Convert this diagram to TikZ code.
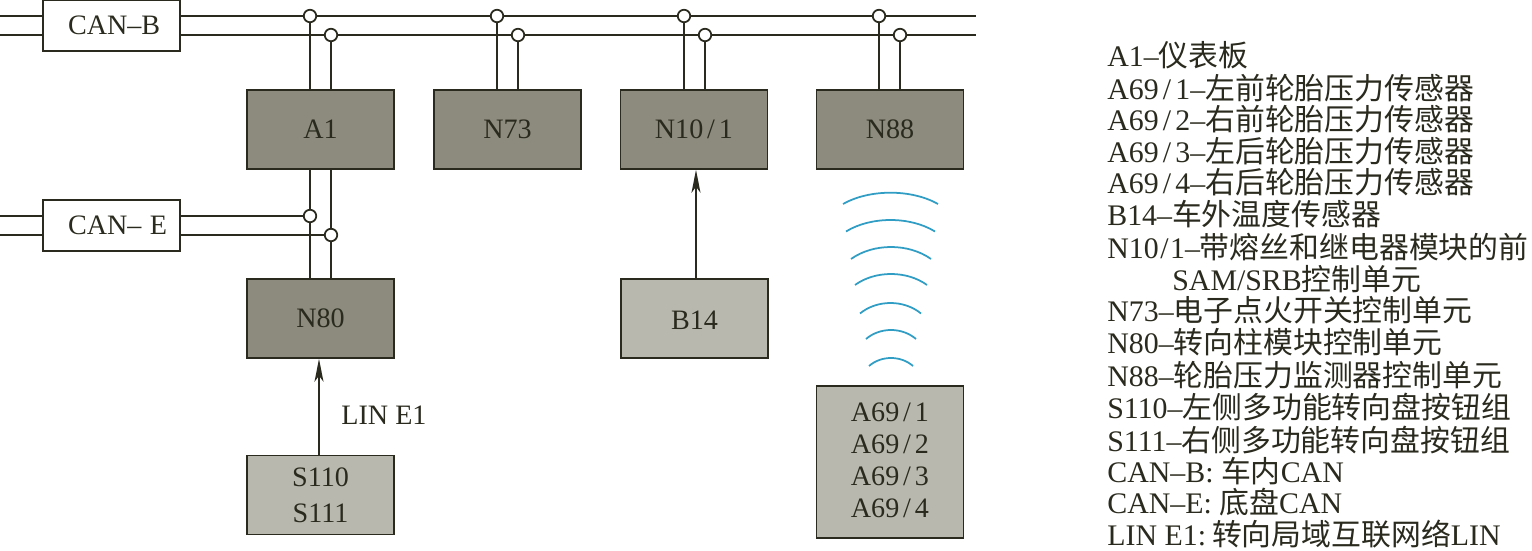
\documentclass[tikz,border=0pt]{standalone}
\usepackage{fontspec}
\setmainfont{Liberation Serif}
\newfontfamily\cjkfont{Noto Sans CJK SC}
\newcommand{\zh}[1]{{\cjkfont #1}}
\newcommand{\sla}{\kern0.14em/\kern0.14em}
\usetikzlibrary{arrows.meta, positioning}
\definecolor{inkline}{HTML}{2A2A1E}
\definecolor{ctrlgray}{HTML}{8C8B7D}
\definecolor{sensgray}{HTML}{B8B8AF}
\definecolor{wavecyan}{HTML}{2F9DC4}
\tikzset{
    ctrl/.style={draw=inkline, rectangle, fill=ctrlgray, minimum width=2.94cm, minimum height=1.58cm, inner sep=0pt, line width=0.9pt, text=inkline, font=\fontsize{16}{18.1}\selectfont, align=center},
    sens/.style={ctrl, fill=sensgray},
    canbox/.style={draw=inkline, rectangle, fill=white, minimum height=1.02cm, text width=2.04cm, inner xsep=0.35cm, inner ysep=0pt, line width=0.9pt, text=inkline, font=\fontsize{16}{18.1}\selectfont, align=left, execute at begin node=\hspace*{0.15cm}},
    junction/.style={circle, draw=inkline, fill=white, minimum size=0.25cm, inner sep=0pt, line width=1pt},
    legend/.style={anchor=base west, inner sep=0pt, text=inkline, font=\fontsize{17}{20}\selectfont},
    tag/.style={inner sep=0pt, text=inkline, font=\fontsize{16}{18.1}\selectfont},
    arrow/.style={-{Stealth[length=0.46cm, width=0.18cm, inset=0.12cm]}, draw=inkline, fill=inkline, line width=0.9pt},
    line/.style={draw=inkline, line width=0.75pt},
    heavyline/.style={draw=inkline, line width=1.1pt},
    wave/.style={draw=wavecyan, line width=1pt}
}
\begin{document}
\begin{tikzpicture}[x=0.02cm, y=-0.02cm]
    \useasboundingbox (0,0) rectangle (1532,551);

    % Bus CAN-B e CAN-E
    \node (canb) [canbox] at (111.5,25.5) {CAN–B};
    \node (cane) [canbox] at (111.5,225.5) {\mbox{CAN–\kern0.3em E}};
    \coordinate (bbh) at (0,16);
    \coordinate (bbl) at (0,35);
    \coordinate (bbhend) at (976,16);
    \coordinate (bblend) at (976,35);
    \coordinate (beh) at (0,216);
    \coordinate (bel) at (0,235);

    % Centraline
    \node (a1) [ctrl] at (320.5,129.5) {A1};
    \node (n73) [ctrl] at (507.5,129.5) {N73};
    \node (n101) [ctrl] at (694,129.5) {N10\sla 1};
    \node (n88) [ctrl] at (890,129.5) {N88};
    \node (n80) [ctrl] at (320.5,318.5) {N80};

    % Sensori
    \node (b14) [sens, text height=13pt] at (694.5,318.5) {B14};
    \node (s110) [sens] at (320.5,495) {S110\\[2.3pt]S111};
    \node (a69) [sens, minimum height=3.04cm, text depth=2.2pt] at (890,462) {A69\sla 1\\A69\sla 2\\A69\sla 3\\A69\sla 4};

    % Giunzioni
    \node (jb1) [junction] at (310,16) {};
    \node (jb2) [junction] at (331,35) {};
    \node (jb3) [junction] at (497,16) {};
    \node (jb4) [junction] at (518,35) {};
    \node (jb5) [junction] at (684,16) {};
    \node (jb6) [junction] at (705,35) {};
    \node (jb7) [junction] at (879,16) {};
    \node (jb8) [junction] at (900,35) {};
    \node (je1) [junction] at (310,216) {};
    \node (je2) [junction] at (331,235) {};

    % Linee dei bus
    \draw[heavyline] (bbh) -- (bbh -| canb.west);
    \draw[line] (bbl) -- (bbl -| canb.west);
    \draw[heavyline] (bbh -| canb.east) -- (jb1) -- (jb3) -- (jb5) -- (jb7) -- (bbhend);
    \draw[line] (bbl -| canb.east) -- (jb2) -- (jb4) -- (jb6) -- (jb8) -- (bblend);
    \draw[line] (beh) -- (beh -| cane.west);
    \draw[line] (bel) -- (bel -| cane.west);
    \draw[line] (beh -| cane.east) -- (je1);
    \draw[line] (bel -| cane.east) -- (je2);

    % Derivazioni verticali
    \draw[heavyline] (jb1) -- (jb1 |- a1.north);
    \draw[line] (jb2) -- (jb2 |- a1.north);
    \draw[heavyline] (jb3) -- (jb3 |- n73.north);
    \draw[line] (jb4) -- (jb4 |- n73.north);
    \draw[heavyline] (jb5) -- (jb5 |- n101.north);
    \draw[line] (jb6) -- (jb6 |- n101.north);
    \draw[heavyline] (jb7) -- (jb7 |- n88.north);
    \draw[line] (jb8) -- (jb8 |- n88.north);
    \draw[heavyline] (je1 |- a1.south) -- (je1) -- (je1 |- n80.north);
    \draw[line] (je2 |- a1.south) -- (je2) -- (je2 |- n80.north);

    % Frecce
    \draw[arrow] (s110.north -| 319,0) -- (n80.south -| 319,0);
    \draw[arrow] (b14.north -| 696,0) -- (n101.south -| 696,0);
    \node (lin) [tag] at (384,415) {LIN E1};

    % Onde radio
    \foreach \xa/\xb/\yb/\yp in {843/938/204/192.7, 846/935/231.5/220, 851/931/259/247, 855/927/285/274, 860/921/313.5/303, 866/916/339/330, 869/913/366/358} {
        \draw[wave] (\xa,\yb) .. controls ({\xa+0.28*(\xb-\xa)},{\yb+(\yp-\yb)/0.75}) and ({\xb-0.28*(\xb-\xa)},{\yb+(\yp-\yb)/0.75}) .. (\xb,\yb);
    }

    % Legenda
    \foreach \xl/\yl/\txt [count=\i] in {
        1107/66/{A1–\zh{仪表板}},
        1107/99/{A69\sla 1–\zh{左前轮胎压力传感器}},
        1107/130/{A69\sla 2–\zh{右前轮胎压力传感器}},
        1107/162/{A69\sla 3–\zh{左后轮胎压力传感器}},
        1107/193/{A69\sla 4–\zh{右后轮胎压力传感器}},
        1107/225/{B14–\zh{车外温度传感器}},
        1107/258/{N10\kern0.05em/\kern0.05em 1–\zh{带熔丝和继电器模块的前}},
        1172/290/{SAM/SRB\zh{控制单元}},
        1107/321/{N73–\zh{电子点火开关控制单元}},
        1107/353/{N80–\zh{转向柱模块控制单元}},
        1107/386/{N88–\zh{轮胎压力监测器控制单元}},
        1107/418/{S110–\zh{左侧多功能转向盘按钮组}},
        1107/451/{S111–\zh{右侧多功能转向盘按钮组}},
        1107/482/{CAN–B: \zh{车内}CAN},
        1107/513/{CAN–E: \zh{底盘}CAN},
        1107/545/{LIN E1:\kern0.2em\zh{转向局域互联网络}LIN}} {
        \node (leg\i) [legend] at (\xl,\yl) {\txt};
    }
\end{tikzpicture}
\end{document}
